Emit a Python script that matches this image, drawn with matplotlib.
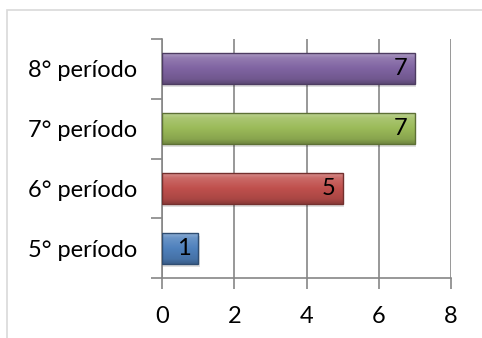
#!/usr/bin/env python3
"""Horizontal bar chart: students per period."""

import matplotlib

matplotlib.use("Agg")
import matplotlib.pyplot as plt
import numpy as np
from matplotlib.colors import LinearSegmentedColormap, to_rgb
from matplotlib.patches import Rectangle

categories = ["5° período", "6° período", "7° período", "8° período"]
values = [1, 5, 7, 7]
bar_colors = ["#4F81BD", "#C0504D", "#9BBB59", "#8064A2"]
x_ticks = [0, 2, 4, 6, 8]

plt.rcParams["font.family"] = ["Lato", "DejaVu Sans"]

fig = plt.figure(figsize=(4.82, 3.38), dpi=100)
fig.patch.set_facecolor("white")
fig.patches.append(
    Rectangle((7 / 482, -0.05), 1.1, 1 - 10 / 338 + 0.05,
              transform=fig.transFigure, fill=False,
              edgecolor="#d9d9d9", linewidth=1.2)
)

ax = fig.add_axes([162 / 482, 1 - 278 / 338, (451 - 162) / 482, (278 - 39) / 338])
ax.set_xlim(0, 8)
ax.set_ylim(-0.5, len(categories) - 0.5)

ypos = np.arange(len(categories))
bar_height = 0.52


def shade(color, factor):
    r, g, b = to_rgb(color)
    if factor >= 1:
        return tuple(c + (1 - c) * (factor - 1) for c in (r, g, b))
    return tuple(c * factor for c in (r, g, b))


bars = ax.barh(ypos, values, height=bar_height, color=bar_colors, zorder=3)
for bar, color, val in zip(bars, bar_colors, values):
    x0, y0 = bar.get_x(), bar.get_y()
    w, h = bar.get_width(), bar.get_height()
    # soft drop shadow
    ax.add_patch(Rectangle((x0 + 0.04, y0 - 0.05), w, h, facecolor="#000000",
                           alpha=0.12, zorder=2, linewidth=0))
    cmap = LinearSegmentedColormap.from_list(
        "bevel",
        [(0.0, shade(color, 0.72)), (0.15, shade(color, 0.88)),
         (0.5, shade(color, 1.0)), (0.82, shade(color, 1.15)),
         (1.0, shade(color, 1.4))],
    )
    grad = np.linspace(0, 1, 64).reshape(-1, 1)
    img = ax.imshow(grad, cmap=cmap, aspect="auto", origin="lower",
                    extent=(x0, x0 + w, y0, y0 + h), zorder=4,
                    interpolation="bilinear")
    img.set_clip_path(bar)
    ax.add_patch(Rectangle((x0, y0), w, h, fill=False,
                           edgecolor=shade(color, 0.6), linewidth=1.0, zorder=5))
    ax.text(val - 0.2, bar.get_y() + h / 2, str(val), ha="right", va="center",
            fontsize=17, color="black", zorder=6)

ax.set_xticks(x_ticks)
ax.set_xticklabels([str(t) for t in x_ticks], fontsize=17)
ax.set_yticks(ypos)
ax.set_yticklabels(categories, fontsize=17)
ax.set_yticks(np.arange(-0.5, len(categories), 1.0), minor=True)
ax.tick_params(axis="y", which="major", length=0, pad=18)
ax.tick_params(axis="y", which="minor", length=8, color="#868686", width=1.2,
               direction="out")
ax.tick_params(axis="x", length=8, color="#868686", width=1.2, pad=12,
               direction="out")
ax.grid(axis="x", color="#868686", linewidth=1.2, zorder=0)
ax.set_axisbelow(True)
for side in ("top", "right"):
    ax.spines[side].set_visible(False)
for side in ("left", "bottom"):
    ax.spines[side].set_color("#868686")
    ax.spines[side].set_linewidth(1.2)

fig.savefig("out.png", dpi=100)
